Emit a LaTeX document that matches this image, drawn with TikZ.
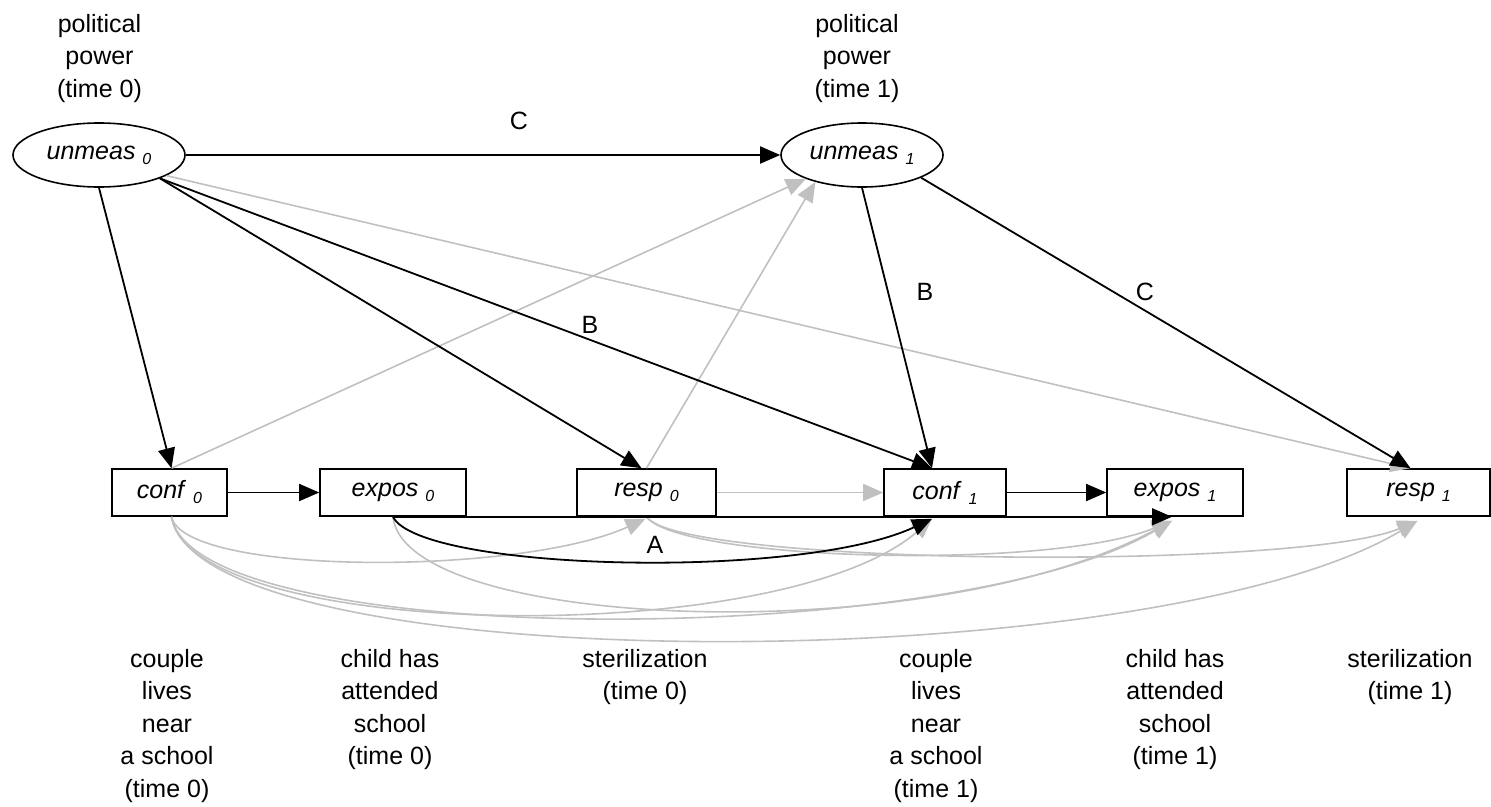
\documentclass[tikz,border=0pt]{standalone}
\usepackage{fontspec}
\setmainfont{Liberation Sans}
\usetikzlibrary{arrows.meta,shapes.geometric}
\definecolor{lightline}{RGB}{192,192,192}
% variable name with a lowered index, e.g. conf_0
\newcommand{\vname}[2]{\textit{#1}~\raisebox{-5pt}{\fontsize{16}{16}\selectfont\itshape #2}}

\begin{document}
\begin{tikzpicture}[x=1pt,y=-1pt,
  font=\fontsize{25}{32.5}\selectfont,
  latent/.style={ellipse, draw, line width=1.6pt, minimum height=64pt, inner sep=0pt},
  obs/.style={rectangle, draw, line width=1.6pt, minimum height=47pt, inner sep=0pt},
  caption/.style={align=center, anchor=north, inner sep=0pt},
  link/.style={line width=1.8pt, -{Triangle[length=20pt,width=17pt]}},
  fadelink/.style={line width=1.6pt, draw=lightline, -{Triangle[length=20pt,width=17pt]}},
  tag/.style={inner sep=0pt}
]
\useasboundingbox (0,0) rectangle (1491,806);

% latent political power
\node[latent, minimum width=172pt] (u0) at (99,155) {\vname{unmeas}{0}};
\node[latent, minimum width=162pt] (u1) at (862,155) {\vname{unmeas}{1}};

% observed variables
\node[obs, minimum width=115pt] (c0) at (169.5,492.5) {\vname{conf}{0}};
\node[obs, minimum width=146pt] (e0) at (393,492.5)   {\vname{expos}{0}};
\node[obs, minimum width=139pt] (r0) at (646.5,492.5) {\vname{resp}{0}};
\node[obs, minimum width=122pt] (c1) at (945,492.5)   {\vname{conf}{1}};
\node[obs, minimum width=136pt] (e1) at (1175,492.5)  {\vname{expos}{1}};
\node[obs, minimum width=143pt] (r1) at (1418.5,492.5){\vname{resp}{1}};

% captions
\node[caption] (t0) at (99.5,14) {political\\power\\(time 0)};
\node[caption] (t1) at (857,14)  {political\\power\\(time 1)};
\node[caption] (d0) at (167,649)  {couple\\lives\\near\\a school\\(time 0)};
\node[caption] (d1) at (390,649)  {child has\\attended\\school\\(time 0)};
\node[caption] (d2) at (645,649)  {sterilization\\(time 0)};
\node[caption] (d3) at (936,649)  {couple\\lives\\near\\a school\\(time 1)};
\node[caption] (d4) at (1175,649) {child has\\attended\\school\\(time 1)};
\node[caption] (d5) at (1410,649) {sterilization\\(time 1)};

% grey paths
\draw[fadelink] (u0.-17) -- ([xshift=-8pt]r1.north);
\draw[fadelink] ([xshift=2pt]c0.north) -- (u1.-157);
\draw[fadelink] (r0.north) -- (u1.-150);
\draw[fadelink] (r0) -- (c1);
\draw[fadelink] ([xshift=2pt]c0.south) .. controls +(13,59) and +(-125,57) .. ([xshift=-1pt,yshift=-2pt]r0.south);
\draw[fadelink] ([xshift=2pt]c0.south) .. controls +(18.5,124) and +(-152,132) .. ([xshift=-13pt,yshift=-2pt]c1.south);
\draw[fadelink] ([xshift=2pt]c0.south) .. controls +(23.5,134) and +(-222,130) .. ([xshift=-3pt,yshift=-4pt]e1.south);
\draw[fadelink] ([xshift=2pt]c0.south) .. controls +(28.5,164) and +(-267,160) .. ([xshift=-1pt,yshift=-4pt]r1.south);
\draw[fadelink] (e0.south) .. controls +(12,114) and +(-242,130) .. ([xshift=-3pt,yshift=-4pt]e1.south);
\draw[fadelink] (r0.south) .. controls +(33.5,44) and +(-122,50) .. ([xshift=-3pt,yshift=-4pt]e1.south);
\draw[fadelink] (r0.south) .. controls +(33.5,49) and +(-117,50) .. ([xshift=-1pt,yshift=-4pt]r1.south);

% black paths
\draw[link] (u0) -- (u1);
\draw[link] (u0.south) -- ([xshift=2pt]c0.north);
\draw[link] (u0.-21) -- ([xshift=-5pt]r0.north);
\draw[link] (u0.-21) -- ([xshift=-13pt]c1.north);
\draw[link] (u1.south) -- ([xshift=-13pt]c1.north);
\draw[link] (u1.-21) -- ([xshift=-8pt]r1.north);
\draw[link] (c0) -- (e0);
\draw[link] (c1) -- (e1);
\draw[link] (e0.south) -- ([xshift=-3pt]e1.south);
\draw[link] (e0.south) .. controls +(27,54) and +(-132,62) .. ([xshift=-13pt,yshift=-2pt]c1.south);

% path labels
\node[tag] (lc0) at (519,121) {C};
\node[tag] (lb0) at (590,325) {B};
\node[tag] (lb1) at (925,292) {B};
\node[tag] (lc1) at (1145,292) {C};
\node[tag] (la)  at (655,545) {A};
\end{tikzpicture}
\end{document}
